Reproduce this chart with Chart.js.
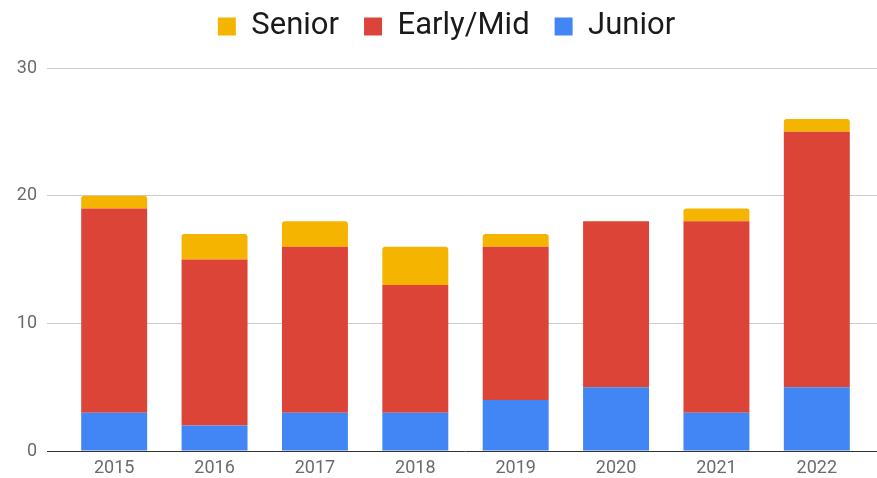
<!DOCTYPE html>
<html>
<head>
<meta charset="utf-8">
<script src="https://cdn.jsdelivr.net/npm/chart.js@4"></script>
<style>
  html, body { margin: 0; padding: 0; background: #fff; }
  #wrap { width: 877px; height: 478px; }
</style>
</head>
<body>
<div id="wrap"><canvas id="chart"></canvas></div>
<script>
const years = ["2015", "2016", "2017", "2018", "2019", "2020", "2021", "2022"];
const junior = [3, 2, 3, 3, 4, 5, 3, 5];
const earlyMid = [16, 13, 13, 10, 12, 13, 15, 20];
const senior = [1, 2, 2, 3, 1, 0, 1, 1];
const yTicks = [0, 10, 20, 30];

const tickColor = "#6b6b6b";
const gridColor = "#cccccc";

// stretch the y grid lines to the right edge of the canvas
const gridExtend = {
  id: "gridExtend",
  beforeDatasetsDraw(chart) {
    const { ctx, chartArea, scales } = chart;
    ctx.save();
    yTicks.forEach((v) => {
      const y = Math.round(scales.y.getPixelForValue(v) - 0.5) + 0.5;
      ctx.strokeStyle = v === 0 ? "#333333" : gridColor;
      ctx.lineWidth = 1;
      ctx.beginPath();
      ctx.moveTo(chartArea.right - 1, y);
      ctx.lineTo(chart.width, y);
      ctx.stroke();
    });
    ctx.restore();
  },
};

// fixed legend height, and nudge the legend row into place
const legendTweak = {
  id: "legendTweak",
  beforeInit(chart) {
    const lg = chart.legend;
    const fit = lg.fit;
    lg.fit = function () {
      fit.call(this);
      this.height = 68;
    };
    const draw = lg.draw;
    lg.draw = function () {
      const ctx = this.ctx;
      ctx.save();
      ctx.translate(13, -14);
      draw.call(this);
      ctx.restore();
    };
  },
};

new Chart(document.getElementById("chart"), {
  type: "bar",
  data: {
    labels: years,
    datasets: [
      { label: "Junior", data: junior, backgroundColor: "#4285F4" },
      { label: "Early/Mid", data: earlyMid, backgroundColor: "#DB4437" },
      {
        label: "Senior",
        data: senior,
        backgroundColor: "#F4B400",
        borderRadius: { topLeft: 3, topRight: 3 },
        borderSkipped: "bottom",
      },
    ],
  },
  options: {
    responsive: true,
    maintainAspectRatio: false,
    animation: false,
    datasets: { bar: { categoryPercentage: 1, barPercentage: 0.657 } },
    layout: { padding: { top: 0, right: 10, bottom: 0, left: 0 } },
    plugins: {
      legend: {
        position: "top",
        reverse: true,
        labels: {
          color: "#1a1a1a",
          font: { family: "Roboto", size: 31 },
          boxWidth: 18,
          boxHeight: 18,
          padding: 25,
        },
      },
      tooltip: { enabled: false },
    },
    scales: {
      x: {
        stacked: true,
        grid: { display: false, drawTicks: false },
        border: { display: false },
        ticks: { color: tickColor, font: { family: "Roboto", size: 18 }, padding: 7 },
        afterFit: (s) => { s.height = 27; },
      },
      y: {
        stacked: true,
        min: 0,
        max: 30,
        afterBuildTicks: (s) => { s.ticks = yTicks.map((v) => ({ value: v })); },
        grid: {
          color: (c) => (c.tick && c.tick.value === 0 ? "#333333" : gridColor),
          tickLength: 17,
        },
        border: { display: false },
        ticks: { color: tickColor, font: { family: "Roboto", size: 18 }, padding: 10 },
        afterFit: (s) => { s.width = 64; },
      },
    },
  },
  plugins: [gridExtend, legendTweak],
});
</script>
</body>
</html>
